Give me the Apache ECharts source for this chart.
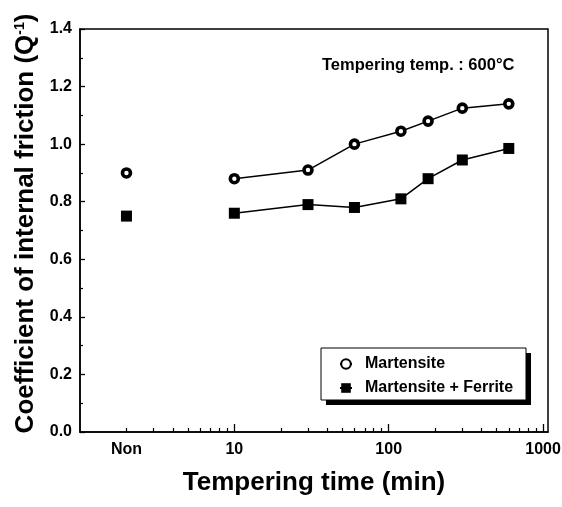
<!DOCTYPE html>
<html><head><meta charset="utf-8">
<script src="https://cdn.jsdelivr.net/npm/echarts@6/dist/echarts.min.js"></script>
<style>html,body{margin:0;padding:0;background:#fff}#c{width:562px;height:507px}</style>
</head><body><div id="c"></div>
<script>
const nonTime = 2;
const times = [10, 30, 60, 120, 180, 300, 600];
const martensite = [0.88, 0.91, 1.00, 1.045, 1.08, 1.125, 1.14];
const martensiteNon = 0.90;
const ferrite = [0.76, 0.79, 0.78, 0.81, 0.88, 0.945, 0.985];
const ferriteNon = 0.75;
const xLabelValues = [2, 10, 100, 1000];
const xMajorTicks = [10, 100, 1000];
const xMinorTicks = [2,3,4,5,6,7,8,9,20,30,40,50,60,70,80,90,200,300,400,500,600,700,800,900];
const seriesNames = ['Martensite', 'Martensite + Ferrite'];

const FONT = '"Liberation Sans", Arial, sans-serif';
const chart = echarts.init(document.getElementById('c'));
const pairs = (xs, ys) => xs.map((x, i) => [x, ys[i]]);
const circleStyle = {color: '#fff', borderColor: '#000', borderWidth: 3.6, opacity: 1};
const squareStyle = {color: '#000', opacity: 1};
const axisLineStyle = {color: '#000', width: 1.5};

chart.setOption({
  animation: false,
  grid: {left: 80, top: 29, width: 468, height: 403, outerBoundsMode: 'none', containLabel: false,
    show: true, borderColor: '#000', borderWidth: 1.5, backgroundColor: 'transparent'},
  xAxis: [{
    type: 'log', logBase: 10, min: 1, max: 1077,
    axisLine: {lineStyle: axisLineStyle},
    axisTick: {inside: true, length: 8, lineStyle: {color: '#000', width: 1.3}, customValues: xMajorTicks},
    axisLabel: {customValues: xLabelValues, color: '#000', fontFamily: FONT, fontWeight: 'bold', fontSize: 16, margin: 10,
      formatter: v => (Math.abs(v - nonTime) < 1e-9 ? 'Non' : String(Math.round(v)))},
    splitLine: {show: false},
    name: 'Tempering time (min)', nameLocation: 'middle', nameGap: 38,
    nameTextStyle: {color: '#000', fontFamily: FONT, fontWeight: 'bold', fontSize: 26}
  }, {
    type: 'log', logBase: 10, min: 1, max: 1077, position: 'bottom',
    axisLine: {show: false},
    axisTick: {inside: true, length: 4, lineStyle: {color: '#000', width: 1.2}, customValues: xMinorTicks},
    axisLabel: {show: false},
    splitLine: {show: false}
  }],
  yAxis: {
    type: 'value', min: 0, max: 1.4, interval: 0.2,
    axisLine: {show: true, lineStyle: axisLineStyle},
    axisTick: {inside: true, length: 5, lineStyle: {color: '#000', width: 1.3}},
    minorTick: {show: true, splitNumber: 2, length: 3, lineStyle: {color: '#000', width: 1.2}},
    axisLabel: {color: '#000', fontFamily: FONT, fontWeight: 'bold', fontSize: 16, margin: 8, formatter: v => v.toFixed(1)},
    splitLine: {show: false},
    name: 'Coefficient of internal friction (Q{sup|-1})', nameLocation: 'middle', nameGap: 37,
    nameTextStyle: {color: '#000', fontFamily: FONT, fontWeight: 'bold', fontSize: 26, padding: [0, 0, 0, 14],
      rich: {sup: {fontFamily: FONT, fontWeight: 'bold', fontSize: 14, verticalAlign: 'top', padding: [0, 0, 12, 0]}}}
  },
  legend: {
    orient: 'vertical', left: 321, top: 348, width: 205,
    data: seriesNames, z: 10,
    backgroundColor: 'transparent', borderWidth: 0,
    padding: [8, 10, 8, 18], itemGap: 8, itemWidth: 12, itemHeight: 12,
    textStyle: {color: '#000', fontFamily: FONT, fontSize: 16, fontWeight: 'bold', padding: [0, 0, 0, 8]}
  },
  graphic: [
    {type: 'rect', z: 1, shape: {x: 326, y: 353, width: 205, height: 52}, style: {fill: '#000'}},
    {type: 'rect', z: 2, shape: {x: 321, y: 348, width: 205, height: 52}, style: {fill: '#fff', stroke: '#000', lineWidth: 1}},
    {type: 'text', left: 322, top: 57, z: 3,
      style: {text: 'Tempering temp. : 600°C', font: 'bold 16.5px ' + FONT, fill: '#000'}}
  ],
  series: [
    {name: seriesNames[0], type: 'line', data: pairs(times, martensite), symbol: 'circle', symbolSize: 8, z: 5,
      itemStyle: circleStyle, lineStyle: {color: '#000', width: 1.5}},
    {name: seriesNames[1], type: 'line', data: pairs(times, ferrite), symbol: 'rect', symbolSize: 11, z: 5,
      itemStyle: squareStyle, lineStyle: {color: '#000', width: 1.5}},
    {name: seriesNames[0], type: 'scatter', data: [[nonTime, martensiteNon]], symbol: 'circle', symbolSize: 8, itemStyle: circleStyle},
    {name: seriesNames[1], type: 'scatter', data: [[nonTime, ferriteNon]], symbol: 'rect', symbolSize: 11, itemStyle: squareStyle}
  ]
});
</script></body></html>
